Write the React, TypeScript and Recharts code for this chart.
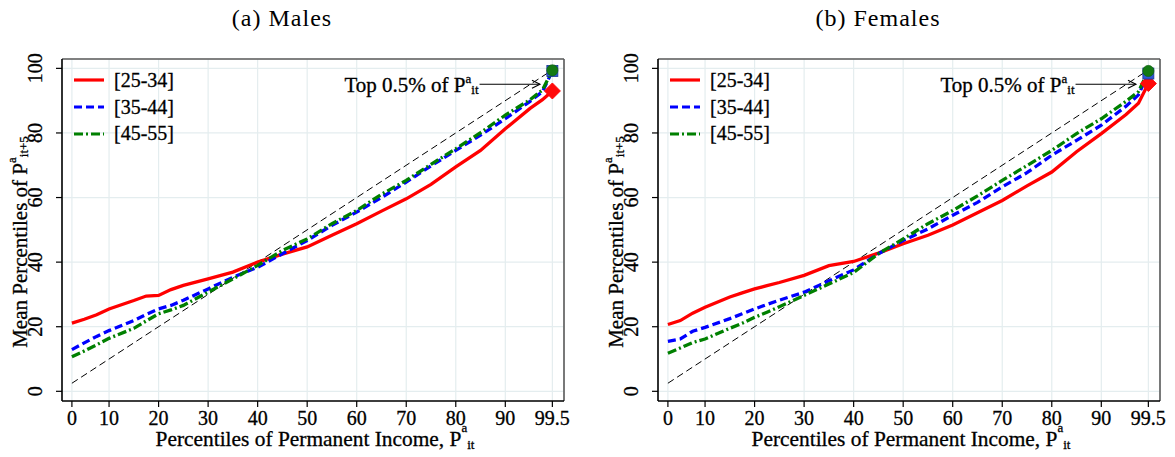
import React from 'react';
import { LineChart, Line, XAxis, YAxis, CartesianGrid, ReferenceLine, ReferenceDot, Label } from 'recharts';

const FONT = '"Liberation Serif", "Times New Roman", serif';
const TEXT_STROKE = 0.3;

// ---- data ----
const percentiles = [2.5, 5, 7.5, 10, 15, 17.5, 20, 22.5, 25, 30, 35, 40, 45, 50, 55, 60, 65, 70, 75, 80, 85, 90, 95, 97.5, 99.5];

const males25_34 = [21.1, 22.3, 23.7, 25.5, 28.1, 29.5, 29.7, 31.5, 32.8, 34.8, 36.9, 40.0, 42.5, 44.7, 48.3, 51.9, 55.8, 59.6, 64.1, 69.5, 74.6, 81.3, 87.6, 90.3, 93.0];
const males35_44 = [12.9, 15.0, 17.0, 18.8, 21.9, 23.8, 25.5, 26.6, 28.2, 31.7, 35.3, 38.4, 42.6, 46.7, 51.4, 55.5, 60.0, 64.8, 69.8, 74.6, 79.3, 84.4, 89.8, 92.8, 99.2];
const males45_55 = [10.7, 12.5, 14.4, 16.4, 19.5, 21.8, 24.0, 25.2, 26.6, 30.7, 34.8, 39.0, 43.6, 47.2, 51.9, 56.0, 61.0, 65.3, 70.3, 75.1, 80.1, 85.5, 90.3, 93.3, 99.4];

const females25_34 = [20.7, 21.9, 24.2, 26.0, 29.2, 30.5, 31.7, 32.7, 33.7, 35.9, 38.9, 40.2, 42.8, 45.7, 48.3, 51.5, 55.3, 59.1, 63.6, 67.9, 74.2, 79.8, 85.7, 89.2, 95.3];
const females35_44 = [15.5, 16.2, 18.6, 19.8, 22.5, 24.0, 25.5, 26.9, 28.2, 30.7, 34.2, 37.6, 42.6, 46.7, 50.3, 54.5, 58.5, 63.3, 67.7, 73.1, 77.7, 82.4, 88.3, 91.8, 98.4];
const females45_55 = [11.8, 13.4, 15.1, 16.2, 19.5, 21.1, 22.9, 24.5, 26.2, 29.7, 33.2, 36.8, 42.6, 47.2, 51.9, 56.0, 60.5, 65.3, 69.9, 74.6, 79.8, 84.4, 89.8, 92.8, 99.2];

const seriesNames = ['[25-34]', '[35-44]', '[45-55]'];
const seriesColors = ['#ff0000', '#0000ff', '#008000'];
const seriesDash = ['', '8 4', '9 3 2 3'];
const markerColors = ['#ff0a0a', '#2b56d6', '#137a13'];

const xTicks = [2.5, 10, 20, 30, 40, 50, 60, 70, 80, 90, 99.5];
const xTickLabels = ['0', '10', '20', '30', '40', '50', '60', '70', '80', '90', '99.5'];
const yTicks = [0, 20, 40, 60, 80, 100];
const xDomain = [0.5, 101.85];
const yDomain = [-3, 102.9];
const diagonalEnds = [2.5, 99.5];
const annotArrowX = [84.8, 97.0];
const annotY = 95.1;

const panelTitles = ['(a) Males', '(b) Females'];

function buildRows(a: number[], b: number[], c: number[]) {
  return percentiles.map((p, i) => ({ pct: p, s0: a[i], s1: b[i], s2: c[i] }));
}

const maleRows = buildRows(males25_34, males35_44, males45_55);
const femaleRows = buildRows(females25_34, females35_44, females45_55);

function makeDot(seriesIndex: number, lastIndex: number) {
  return (props: any) => {
    const { cx, cy, index } = props;
    const k = `dot-${seriesIndex}-${index}`;
    if (index !== lastIndex || cx == null || cy == null) return <g key={k} />;
    const col = markerColors[seriesIndex];
    if (seriesIndex === 0) {
      const r = 8;
      return (
        <polygon key={k} points={`${cx},${cy - r} ${cx + r},${cy} ${cx},${cy + r} ${cx - r},${cy}`} fill={col} stroke={col} />
      );
    }
    if (seriesIndex === 1) {
      return <rect key={k} x={cx - 5.5} y={cy - 5.5} width={11} height={11} fill={col} stroke="#1a3596" strokeWidth={0.8} />;
    }
    return <circle key={k} cx={cx} cy={cy} r={5.6} fill={col} stroke="#0d5e0d" strokeWidth={0.6} />;
  };
}

const textProps = { fontFamily: FONT, fill: '#000', stroke: '#000', strokeWidth: TEXT_STROKE };

const XTick = (p: any) => {
  const idx = xTicks.indexOf(p.payload.value);
  return (
    <text x={p.x} y={p.y + 16} textAnchor="middle" fontSize={20} {...textProps}>
      {idx >= 0 ? xTickLabels[idx] : p.payload.value}
    </text>
  );
};

const YTick = (p: any) => {
  const bx = p.x - 12;
  return (
    <text x={bx} y={p.y} transform={`rotate(-90, ${bx}, ${p.y})`} textAnchor="middle" fontSize={20} {...textProps}>
      {p.payload.value}
    </text>
  );
};

const XLabel = (p: any) => {
  const vb = p.viewBox;
  return (
    <text x={vb.x + vb.width / 2 + 2} y={vb.y + 45} textAnchor="middle" fontSize={21.4} {...textProps}>
      Percentiles of Permanent Income, P
      <tspan dy={-14} fontSize={13}>a</tspan>
      <tspan dy={17} fontSize={13}>it</tspan>
    </text>
  );
};

const YLabel = (p: any) => {
  const vb = p.viewBox;
  const bx = vb.x + 25;
  const cy = vb.y + vb.height / 2 + 12;
  return (
    <text x={bx} y={cy} transform={`rotate(-90, ${bx}, ${cy})`} textAnchor="middle" fontSize={21} {...textProps}>
      Mean Percentiles of P
      <tspan dy={-11} fontSize={13}>a</tspan>
      <tspan dy={12} fontSize={13}>it+5</tspan>
    </text>
  );
};

const annotText = (p: any) => {
  const { cx, cy } = p;
  return (
    <text x={cx - 1} y={cy + 8} textAnchor="end" fontSize={21} {...textProps}>
      Top 0.5% of P
      <tspan dy={-9} fontSize={13}>a</tspan>
      <tspan dy={11} fontSize={13}>it</tspan>
    </text>
  );
};

const arrowHead = (p: any) => {
  const { cx, cy } = p;
  return <path d={`M ${cx - 8} ${cy - 4} L ${cx} ${cy} L ${cx - 8} ${cy + 4}`} fill="none" stroke="#000" strokeWidth={1.1} />;
};

function LegendBox() {
  return (
    <div
      style={{
        position: 'absolute',
        left: 74,
        top: 67,
        fontFamily: FONT,
        fontSize: 20,
        color: '#000',
        WebkitTextStroke: `${TEXT_STROKE}px #000`,
      }}
    >
      {seriesNames.map((n, i) => (
        <div key={n} style={{ display: 'flex', alignItems: 'center', height: 26.7, lineHeight: '26.7px' }}>
          <svg width={30} height={8} style={{ display: 'block' }}>
            <line x1={0} y1={4} x2={30} y2={4} stroke={seriesColors[i]} strokeWidth={3.2} strokeDasharray={seriesDash[i] || undefined} />
          </svg>
          <span style={{ marginLeft: 10 }}>{n}</span>
        </div>
      ))}
    </div>
  );
}

function Panel({ rows, title, left }: { rows: any[]; title: string; left: number }) {
  const last = rows.length - 1;
  return (
    <div style={{ position: 'absolute', left, top: 0, width: 596, height: 457 }}>
      <LineChart width={596} height={457} data={rows} margin={{ top: 59, right: 32, bottom: 6, left: 2 }}>
        <CartesianGrid stroke="#e4edef" strokeWidth={1.2} />
        <XAxis
          type="number"
          dataKey="pct"
          domain={xDomain}
          ticks={xTicks}
          interval={0}
          allowDataOverflow
          height={50}
          tickSize={6}
          tickMargin={2}
          axisLine={{ stroke: '#000', strokeWidth: 1.6 }}
          tickLine={{ stroke: '#000', strokeWidth: 1.2 }}
          tick={XTick}
        >
          <Label content={XLabel} />
        </XAxis>
        <YAxis
          type="number"
          domain={yDomain}
          ticks={yTicks}
          interval={0}
          allowDataOverflow
          width={60}
          tickSize={6}
          tickMargin={2}
          axisLine={{ stroke: '#000', strokeWidth: 1.6 }}
          tickLine={{ stroke: '#000', strokeWidth: 1.2 }}
          tick={YTick}
        >
          <Label content={YLabel} />
        </YAxis>
        <ReferenceLine y={yDomain[1]} stroke="#5a5a5a" strokeWidth={1.6} ifOverflow="visible" />
        <ReferenceLine x={xDomain[1]} stroke="#5a5a5a" strokeWidth={1.6} ifOverflow="visible" />
        <ReferenceLine
          segment={[
            { x: diagonalEnds[0], y: diagonalEnds[0] },
            { x: diagonalEnds[1], y: diagonalEnds[1] },
          ]}
          stroke="#000"
          strokeWidth={1}
          strokeDasharray="7 4"
          ifOverflow="visible"
        />
        {['s0', 's1', 's2'].map((k, i) => (
          <Line
            key={k}
            type="linear"
            dataKey={k}
            stroke={seriesColors[i]}
            strokeWidth={3.3}
            strokeDasharray={seriesDash[i] || undefined}
            dot={makeDot(i, last)}
            activeDot={false}
            isAnimationActive={false}
          />
        ))}
        <ReferenceLine
          segment={[
            { x: annotArrowX[0], y: annotY },
            { x: annotArrowX[1], y: annotY },
          ]}
          stroke="#000"
          strokeWidth={1.1}
          ifOverflow="visible"
        />
        <ReferenceDot x={annotArrowX[1]} y={annotY} r={0} shape={arrowHead} ifOverflow="visible" />
        <ReferenceDot x={annotArrowX[0]} y={annotY} r={0} shape={annotText} ifOverflow="visible" />
      </LineChart>
      <LegendBox />
      <svg width={596} height={40} style={{ position: 'absolute', left: 0, top: 0, pointerEvents: 'none' }}>
        <text x={282} y={26} textAnchor="middle" fontSize={24} letterSpacing={1} fontFamily={FONT} fill="#000">
          {title}
        </text>
      </svg>
    </div>
  );
}

export default function App() {
  return (
    <div style={{ position: 'absolute', left: 0, top: 0, width: 1175, height: 457, background: '#fff', overflow: 'hidden' }}>
      <Panel rows={maleRows} title={panelTitles[0]} left={0} />
      <Panel rows={femaleRows} title={panelTitles[1]} left={596} />
    </div>
  );
}
